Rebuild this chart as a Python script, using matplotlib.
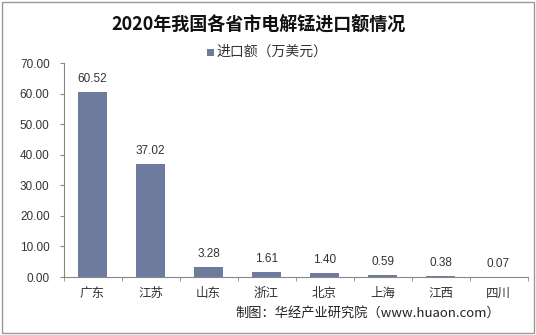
import matplotlib
matplotlib.use("Agg")
import matplotlib.pyplot as plt
from matplotlib.patches import Rectangle

plt.rcParams['font.family'] = ['Noto Sans CJK SC', 'DejaVu Sans']

categories = ['广东', '江苏', '山东', '浙江', '北京', '上海', '江西', '四川']
values = [60.52, 37.02, 3.28, 1.61, 1.40, 0.59, 0.38, 0.07]
yticks = [0, 10, 20, 30, 40, 50, 60, 70]
title = '2020年我国各省市电解锰进口额情况'
series_name = '进口额（万美元）'
source = '制图：华经产业研究院（www.huaon.com）'

bar_color = '#6f7a9f'

fig = plt.figure(figsize=(5.36, 3.35), dpi=100)
ax = fig.add_axes([63.5/536, 1-277/335, 464/536, 214/335])

x = list(range(len(categories)))
ax.bar(x, values, width=0.5, color=bar_color, zorder=2)
for xi, v in zip(x, values):
    ax.text(xi, v + 2.2, f'{v:.2f}', ha='center', va='bottom', fontsize=8.5,
            color='#333333', family=['Liberation Sans', 'DejaVu Sans'])

ax.set_xlim(-0.5, len(categories) - 0.5)
ax.set_ylim(0, 70)
ax.set_yticks(yticks)
ax.set_yticklabels([f'{t:.2f}' for t in yticks], fontsize=8.5, color='#333333',
                   family=['Liberation Sans', 'DejaVu Sans'])
ax.set_xticks(x)
ax.set_xticklabels(categories, fontsize=9, color='#333333')
ax.tick_params(axis='x', length=0, pad=7)
ax.tick_params(axis='y', length=3, color='#888888', pad=7)
ax.set_xticks([i + 0.5 for i in range(-1, len(categories))], minor=True)
ax.tick_params(axis='x', which='minor', length=3, color='#888888')

for s in ['top', 'right']:
    ax.spines[s].set_visible(False)
ax.spines['left'].set_color('#888888')
ax.spines['bottom'].set_color('#888888')
ax.spines['left'].set_linewidth(0.8)
ax.spines['bottom'].set_linewidth(0.8)

fig.text(259/536, 1-25/335, title, ha='center', va='center', fontsize=13,
         fontweight='bold', color='#111111')

# legend
fig.patches.append(Rectangle((207/536, 1-56/335), 7/536, 7/335, transform=fig.transFigure,
                             facecolor=bar_color, edgecolor='none'))
fig.text(216/536, 1-52/335, series_name, ha='left', va='center', fontsize=10, color='#333333')

fig.text(500/536, 1-313/335, source, ha='right', va='center', fontsize=9.5, color='#222222')

# outer border
fig.patches.append(Rectangle((2/536, 2/335), 532/536, 331/335, transform=fig.transFigure,
                             facecolor='none', edgecolor='#999999', linewidth=1))

fig.savefig('out.png', dpi=100)
